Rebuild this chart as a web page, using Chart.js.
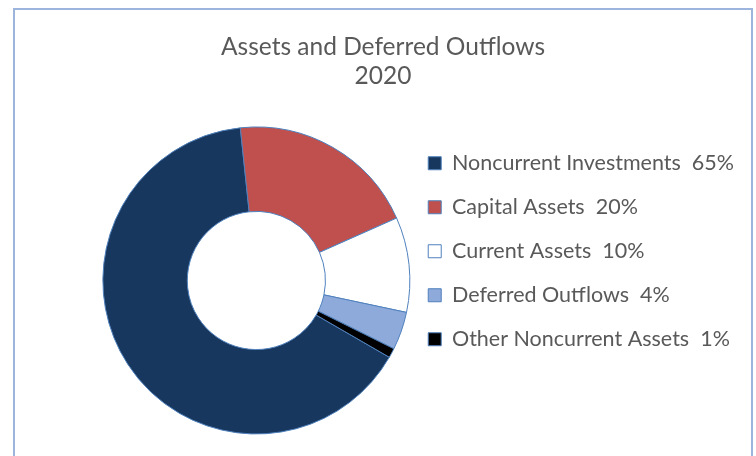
<!DOCTYPE html>
<html>
<head>
<meta charset="utf-8">
<script src="https://cdn.jsdelivr.net/npm/chart.js@4"></script>
<style>
body { margin: 0; background: #fff; width: 756px; height: 456px; overflow: hidden; position: relative; }
#head { position: absolute; left: -14px; top: -39px; font: bold 40px Lato; line-height: 40px; color: #000; white-space: nowrap; }
#frame { position: absolute; left: 13px; top: 8px; width: 736px; height: 520px; border: 2px solid #9DB5DC; }
#wrap { position: absolute; left: 15px; top: 10px; width: 736px; height: 447px; }
</style>
</head>
<body>
<div id="head">Assets and Deferred Outflows</div>
<div id="frame"></div>
<div id="wrap"><canvas id="chart"></canvas></div>
<script>
const titleLines = ['Assets and Deferred Outflows', '2020']
const categories = ['Noncurrent Investments', 'Capital Assets', 'Current Assets', 'Deferred Outflows', 'Other Noncurrent Assets']
const values = [65, 20, 10, 4, 1]
const colors = ['#17375E', '#C0504D', '#FFFFFF', '#8EAADB', '#000000']

const labels = categories.map((c, i) => `${c}  ${values[i]}%`)

// title centred on the whole canvas (the built-in one centres between the paddings)
const centredTitle = {
    id: 'centredTitle',
    afterDraw(chart) {
        const ctx = chart.ctx
        ctx.save()
        ctx.font = '24.5px Lato'
        ctx.fillStyle = '#595959'
        ctx.textAlign = 'center'
        ctx.textBaseline = 'middle'
        titleLines.forEach((line, i) => ctx.fillText(line, chart.width / 2, 37 + i * 29))
        ctx.restore()
    }
}

new Chart(document.getElementById('chart'), {
    type: 'doughnut',
    data: {
        labels: labels,
        datasets: [
            {
                data: values,
                backgroundColor: colors,
                borderColor: '#4F81BD',
                borderWidth: 1,
                radius: 153.5,
                cutout: '45%',
                clip: false
            }
        ]
    },
    options: {
        responsive: true,
        maintainAspectRatio: false,
        animation: false,
        events: [],
        rotation: 120,
        layout: { padding: { left: 92, right: 7, top: 120, bottom: 26 } },
        plugins: {
            tooltip: { enabled: false },
            title: { display: false },
            legend: {
                position: 'right',
                align: 'start',
                fullSize: false,
                maxWidth: 345,
                labels: {
                    color: '#595959',
                    font: { family: 'Lato', size: 21.5 },
                    boxWidth: 13,
                    boxHeight: 13,
                    padding: 22.5
                }
            }
        }
    },
    plugins: [centredTitle]
})
</script>
</body>
</html>
